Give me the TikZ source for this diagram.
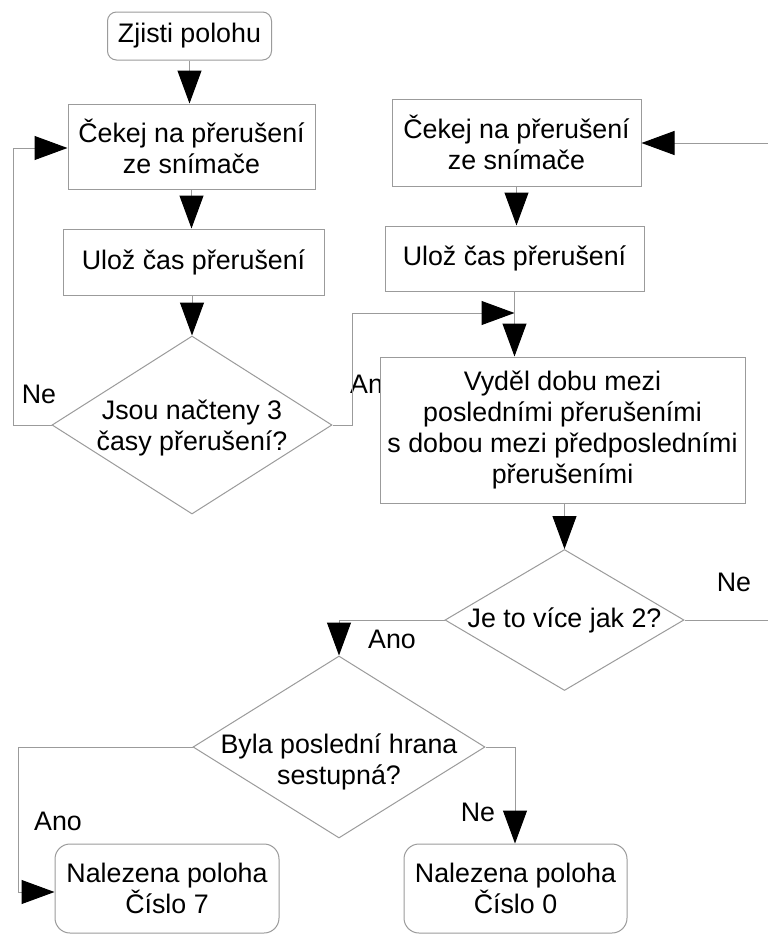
\documentclass[tikz,border=0pt]{standalone}
\usepackage{fontspec}
\setmainfont{Liberation Sans}
\usetikzlibrary{shapes.geometric,arrows.meta}
\definecolor{ln}{RGB}{155,155,155}
\begin{document}
\begin{tikzpicture}[x=1pt,y=-1pt,
  every node/.style={font=\fontsize{26.8}{31}\selectfont, inner sep=0pt, align=center, text=black},
  box/.style 2 args={draw=ln, line width=1pt, fill=white, rectangle, minimum width=#1pt, minimum height=#2pt},
  term/.style 2 args={box={#1}{#2}, rounded corners=15pt},
  dec/.style 2 args={draw=ln, line width=1pt, fill=white, diamond, minimum width=#1pt, minimum height=#2pt},
  conn/.style={draw=ln, line width=1pt},
  arr/.style={conn, -{Triangle[length=33pt,width=24pt,fill=black,color=black]}}
]
\useasboundingbox (0,0) rectangle (768,935);

% left column
\node[box={164}{48}, rounded corners=9pt] (start) at (189.5,36) {Zjisti polohu};
\node[box={247}{85}] (wait1) at (191.5,146.5) {Čekej na přerušení\\ze snímače};
\node[box={261}{66}] (save1) at (193.5,262) {Ulož čas přerušení};
\node[dec={280}{178}] (dec1) at (192,425) {};
\node (dec1t) at (192,428) {Jsou načteny 3\\časy přerušení?};

% right column
\node[box={249}{87}] (wait2) at (516.5,142.5) {Čekej na přerušení\\ze snímače};
\node[box={259}{65}] (save2) at (514.5,258.5) {Ulož čas přerušení};
\node[anchor=west] (lano1) at (350,384) {Ano};
\node[box={365}{146}] (calc) at (562.5,430) {Vyděl dobu mezi\\posledními přerušeními\\s dobou mezi předposledními\\přerušeními};
\node[dec={239}{141}] (dec2) at (564.5,620) {};
\node (dec2t) at (564.5,620) {Je to více jak 2?};
\node[dec={292}{182}] (dec3) at (339,747) {};
\node (dec3t) at (339,762) {Byla poslední hrana\\sestupná?};
\node[term={224}{89}] (end7) at (167,888.5) {Nalezena poloha\\Číslo 7};
\node[term={223}{89}] (end0) at (515.5,888.5) {Nalezena poloha\\Číslo 0};

% labels
\node (lne1) at (39,394) {Ne};
\node (lne2) at (734,582) {Ne};
\node (lano2) at (392,639) {Ano};
\node (lano3) at (58,821) {Ano};
\node (lne3) at (478,812) {Ne};

% helper coordinates
\coordinate (nel) at (13,148);
\coordinate (anoc) at (352,313);
\coordinate (rin) at (768,143);
\coordinate (rout) at (768,620);
\coordinate (c7) at (18,892);

% connectors
\draw[arr] (start.south) -- (start.south |- wait1.north);
\draw[arr] (wait1.south) -- (wait1.south |- save1.north);
\draw[arr] (dec1.north |- save1.south) -- (dec1.north);
\draw[arr] (dec1.west) -| (nel) -- (nel -| wait1.west);
\draw[arr] (dec1.east) -| (anoc) -- (anoc -| save2.south);
\draw[arr] (wait2.south) -- (wait2.south |- save2.north);
\draw[arr] (save2.south) -- (save2.south |- calc.north);
\draw[arr] (rin) -- (rin -| wait2.east);
\draw[arr] (dec2.north |- calc.south) -- (dec2.north);
\draw[conn] (dec2.east) -- (rout);
\draw[arr] (dec2.west) -| (dec3.north);
\draw[arr] (dec3.west) -| (c7) -- (c7 -| end7.west);
\draw[arr] (dec3.east) -| ([xshift=-0.5pt]end0.north);
\end{tikzpicture}
\end{document}
